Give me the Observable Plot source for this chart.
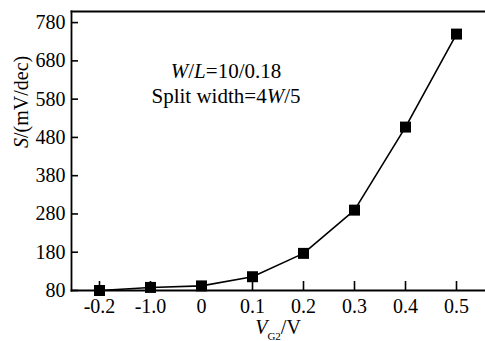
<!DOCTYPE html>
<html>
<head>
<meta charset="utf-8">
<script src="https://cdn.jsdelivr.net/npm/d3@7"></script>
<script src="https://cdn.jsdelivr.net/npm/@observablehq/plot@0.6"></script>
<style>
  html, body { margin: 0; padding: 0; background: #fff; }
  svg { display: block; }
</style>
</head>
<body>
<div id="chart"></div>
<script>
// Data
const vg2 = ["-0.2", "-1.0", "0", "0.1", "0.2", "0.3", "0.4", "0.5"];
const sValues = [80, 88, 92, 116, 177, 290, 507, 750];
const yTicks = [80, 180, 280, 380, 480, 580, 680, 780];
const yTop = 809;
const annotation1 = "W/L=10/0.18";
const annotation2 = "Split width=4W/5";
const xLabel = "VG2/V";
const yLabel = "S/(mV/dec)";

const data = vg2.map((v, i) => ({v, s: sValues[i]}));
const font = "Liberation Serif, Times New Roman, serif";

const svg = Plot.plot({
  width: 485,
  height: 341,
  marginLeft: 71,
  marginRight: 1,
  marginTop: 11,
  marginBottom: 51,
  style: {fontFamily: font, fontSize: "20px", color: "#000", background: "#fff"},
  x: {type: "point", domain: vg2, padding: 0.5},
  y: {domain: [80, yTop]},
  marks: [
    Plot.frame({anchor: "top", stroke: "#000", strokeWidth: 1.8}),
    Plot.frame({anchor: "left", stroke: "#000", strokeWidth: 1.8}),
    Plot.frame({anchor: "bottom", stroke: "#000", strokeWidth: 1.8}),
    Plot.axisX({tickSize: -9, tickPadding: 17.5, label: null, fontSize: 20, strokeWidth: 1.6}),
    Plot.axisY({ticks: yTicks, tickSize: -7, tickPadding: 13, label: null, fontSize: 20, strokeWidth: 1.6}),
    Plot.line(data, {x: "v", y: "s", stroke: "#000", strokeWidth: 1.6}),
    Plot.dot(data, {x: "v", y: "s", symbol: "square", r: 6.2, fill: "#000", stroke: "none"}),
    Plot.text([annotation1], {text: d => d, frameAnchor: "top", lineAnchor: "middle", dx: -52, dy: 59.3, fontSize: 21}),
    Plot.text([annotation2], {text: d => d, frameAnchor: "top", lineAnchor: "middle", dx: -52, dy: 84.5, fontSize: 21}),
    Plot.text([xLabel], {text: d => d, frameAnchor: "bottom", lineAnchor: "middle", dy: 36.6, fontSize: 20}),
    Plot.text([yLabel], {text: d => d, frameAnchor: "left", lineAnchor: "middle", dx: -50.4, dy: -3, rotate: -90, fontSize: 20})
  ]
});

document.getElementById("chart").appendChild(svg);

// Rich text: italics and subscripts
function richify(str, parts) {
  d3.select(svg).selectAll("text").filter(function() { return this.textContent === str; })
    .each(function() {
      const t = d3.select(this);
      t.text(null);
      parts.forEach(p => {
        const ts = t.append("tspan").text(p.t);
        if (p.i) ts.attr("font-style", "italic");
        if (p.sub) ts.attr("font-size", 11).attr("dy", 6.5);
        if (p.after) ts.attr("dy", -6.5);
      });
    });
}
richify(annotation1, [{t: "W", i: 1}, {t: "/"}, {t: "L", i: 1}, {t: "=10/0.18"}]);
richify(annotation2, [{t: "Split width=4"}, {t: "W", i: 1}, {t: "/5"}]);
richify(xLabel, [{t: "V", i: 1}, {t: "G2", sub: 1}, {t: "/V", after: 1}]);
richify(yLabel, [{t: "S", i: 1}, {t: "/(mV/dec)"}]);
</script>
</body>
</html>
